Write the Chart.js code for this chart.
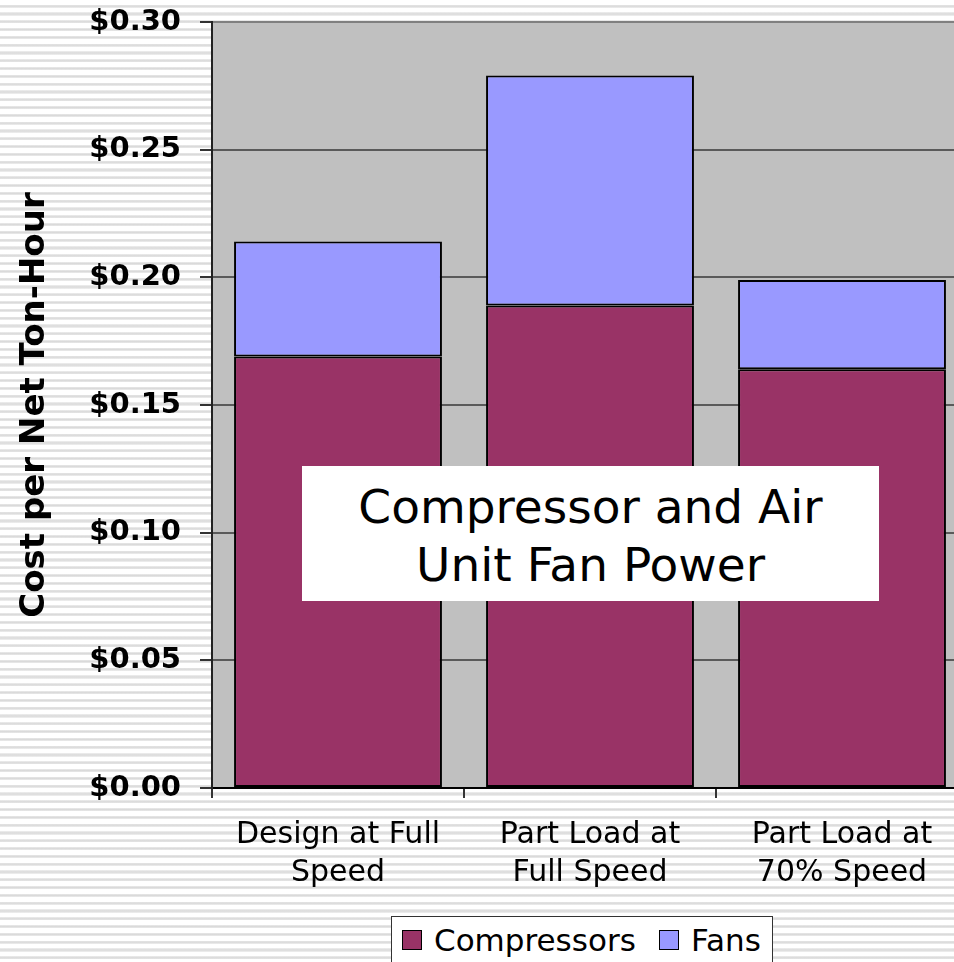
<!DOCTYPE html>
<html>
<head>
<meta charset="utf-8">
<script src="https://cdn.jsdelivr.net/npm/chart.js@4.4.1/dist/chart.umd.min.js"></script>
<style>
  html, body { margin: 0; padding: 0; width: 954px; height: 962px; overflow: hidden; }
  body {
    background: repeating-linear-gradient(to bottom,
      #ffffff 0px, #ffffff 4.6px,
      #ebebeb 4.6px, #d9d9d9 6.2px, #ececec 7.8px);
  }
  #wrap { position: absolute; left: 0; top: 0; width: 980px; height: 962px; }
  #note {
    position: absolute; left: 302px; top: 466px; width: 577px; height: 135px;
    background: #fff; box-sizing: border-box; padding-top: 12px;
    font-family: "DejaVu Sans", sans-serif; font-size: 47px; line-height: 58px;
    text-align: center; color: #000;
  }
  #legend {
    position: absolute; left: 391px; top: 916px; width: 382px; height: 70px;
    background: #fff; border: 1.5px solid #333; box-sizing: border-box;
    font-family: "DejaVu Sans", sans-serif; font-size: 31px; color: #000;
  }
  #legend .item { position: absolute; top: 13px; height: 20px; display: flex; align-items: center; line-height: 20px; white-space: nowrap; }
  #legend .sw { width: 20px; height: 20px; box-sizing: border-box; border: 1.5px solid #000; margin-right: 12px; flex: none; }
</style>
</head>
<body>
<div id="wrap"><canvas id="chart" width="980" height="962"></canvas></div>
<div id="note">Compressor and Air<br>Unit Fan Power</div>
<div id="legend"></div>
<script>
// Operating cases along the x axis (two-line labels)
const categories = [
  ["Design at Full", "Speed"],
  ["Part Load at", "Full Speed"],
  ["Part Load at", "70% Speed"]
];
// Cost per net ton-hour, by component ($)
const compressors = [0.169, 0.189, 0.164];
const fans = [0.045, 0.090, 0.035];
// Value axis range and step
const yMin = 0;
const yMax = 0.30;
const yStep = 0.05;

const seriesNames = ["Compressors", "Fans"];
const seriesColors = ["#993366", "#9999FF"];

// Grey plot-area fill behind the bars
const plotBackground = {
  id: "plotBackground",
  beforeDraw(chart) {
    const { ctx, chartArea: a } = chart;
    ctx.save();
    ctx.fillStyle = "#C0C0C0";
    ctx.fillRect(a.left, a.top, a.right - a.left, a.bottom - a.top);
    ctx.restore();
  }
};

const chart = new Chart(document.getElementById("chart"), {
  type: "bar",
  data: {
    labels: categories,
    datasets: [
      { label: seriesNames[0], data: compressors, backgroundColor: seriesColors[0] },
      { label: seriesNames[1], data: fans, backgroundColor: seriesColors[1] }
    ]
  },
  options: {
    responsive: false,
    animation: false,
    devicePixelRatio: 1,
    layout: { padding: { top: 22, right: 12, bottom: 0, left: 0 } },
    datasets: {
      bar: {
        borderColor: "#000",
        borderWidth: 2,
        borderSkipped: false,
        categoryPercentage: 1,
        barPercentage: 0.825
      }
    },
    plugins: {
      legend: { display: false },
      tooltip: { enabled: false }
    },
    scales: {
      x: {
        stacked: true,
        offset: true,
        afterFit(scale) {
          scale.height = 174;
          scale.paddingLeft = 0;
          scale.paddingRight = 0;
        },
        grid: {
          offset: true,
          drawOnChartArea: false,
          drawTicks: true,
          tickLength: 10,
          tickColor: "#333",
          lineWidth: 2
        },
        border: { color: "#000", width: 2 },
        ticks: {
          autoSkip: false,
          maxRotation: 0,
          minRotation: 0,
          padding: 19,
          color: "#000",
          font: { family: "DejaVu Sans", size: 30, lineHeight: 1.24 }
        }
      },
      y: {
        stacked: true,
        min: yMin,
        max: yMax,
        afterFit(scale) {
          scale.width = 212;
          scale.paddingTop = 0;
          scale.paddingBottom = 0;
        },
        grid: {
          color: (c) => (c.tick && Math.abs(c.tick.value - yMax) < 1e-9 ? "#808080" : "#5a5a5a"),
          lineWidth: 2,
          tickLength: 12,
          tickColor: "#333"
        },
        border: { color: "#222", width: 2 },
        ticks: {
          stepSize: yStep,
          padding: 19,
          color: "#000",
          font: { family: "DejaVu Sans", size: 29, weight: "bold" },
          callback: (v) => "$" + Number(v).toFixed(2)
        },
        title: {
          display: true,
          text: "Cost per Net Ton-Hour",
          color: "#000",
          padding: { top: 15, bottom: 0 },
          font: { family: "DejaVu Sans", size: 34, weight: "bold" }
        }
      }
    }
  },
  plugins: [plotBackground]
});

// Boxed legend built from the chart's datasets
const legend = document.getElementById("legend");
const itemLeft = [10, 267];
chart.data.datasets.forEach((ds, i) => {
  const item = document.createElement("div");
  item.className = "item";
  item.style.left = itemLeft[i] + "px";
  const sw = document.createElement("span");
  sw.className = "sw";
  sw.style.background = ds.backgroundColor;
  const txt = document.createElement("span");
  txt.textContent = ds.label;
  item.appendChild(sw);
  item.appendChild(txt);
  legend.appendChild(item);
});
</script>
</body>
</html>
